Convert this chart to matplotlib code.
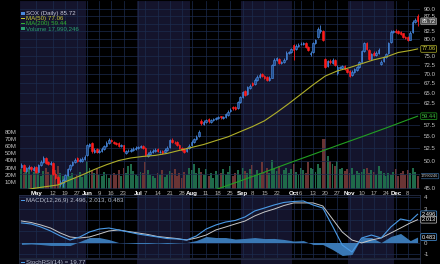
import numpy as np
import pandas as pd
import matplotlib
matplotlib.use('Agg')
import matplotlib.pyplot as plt
from matplotlib import ticker, transforms
from matplotlib.patches import Rectangle

plt.rcParams['font.family'] = ['Liberation Sans', 'DejaVu Sans']

# trading days shown (2014, US holidays removed)
holidays = ['2014-05-26', '2014-07-04', '2014-09-01', '2014-11-27']
days = pd.bdate_range('2014-04-23', '2014-12-12')
days = days[~days.isin(pd.to_datetime(holidays))]

opens = [48.8, 49.3, 48.2, 48.6, 48.9, 48.3, 48.8, 48.0, 49.3, 49.8,
         50.5, 49.8, 49.4, 49.6, 47.5, 47.0, 45.8, 45.9, 46.5, 47.4,
         48.4, 49.2, 49.8, 50.6, 50.0, 50.1, 50.4, 51.2, 53.0, 53.6,
         51.8, 52.3, 51.7, 52.0, 52.4, 52.9, 53.7, 54.3, 53.9, 53.7,
         53.6, 52.9, 53.1, 51.6, 51.9, 51.9, 52.2, 52.3, 52.5, 52.7,
         53.0, 52.6, 51.0, 51.3, 51.8, 51.9, 52.3, 51.7, 51.9, 51.7,
         52.2, 52.8, 54.3, 53.7, 53.8, 53.1, 52.5, 52.3, 51.9, 52.6,
         53.1, 53.9, 54.5, 55.0, 58.4, 57.7, 58.1, 58.8, 58.2, 58.5,
         58.7, 59.1, 59.4, 59.0, 59.3, 59.8, 60.6, 61.6, 61.5, 61.3,
         62.8, 64.0, 65.4, 64.8, 66.4, 67.6, 67.2, 68.3, 69.1, 70.0,
         69.3, 69.2, 68.4, 69.0, 72.5, 73.8, 74.2, 73.0, 73.2, 74.0,
         75.8, 76.2, 78.2, 76.9, 78.0, 78.4, 78.5, 78.9, 77.5, 75.6,
         76.2, 78.7, 80.6, 82.5, 82.6, 74.0, 72.2, 73.6, 73.0, 73.9,
         70.2, 71.5, 71.6, 72.2, 71.2, 70.8, 69.6, 70.5, 71.0, 71.8,
         73.4, 76.4, 78.9, 76.8, 74.1, 76.0, 75.2, 75.8, 72.8, 73.5,
         74.6, 75.8, 79.0, 82.2, 82.7, 82.5, 82.2, 81.8, 80.6, 80.6,
         79.9, 82.2, 85.5, 87.6]
closes = [49.3, 48.2, 48.7, 48.9, 48.4, 48.7, 47.9, 49.3, 49.9, 50.6,
          49.7, 49.5, 49.7, 47.6, 46.9, 46.0, 46.2, 46.4, 47.4, 48.4,
          49.3, 49.8, 50.3, 50.1, 50.2, 50.4, 50.8, 53.1, 53.3, 51.9,
          52.2, 51.8, 52.0, 52.4, 52.9, 53.7, 54.3, 54.0, 53.7, 53.5,
          53.0, 53.2, 51.9, 51.9, 52.0, 52.2, 52.4, 52.6, 52.7, 52.9,
          52.5, 51.1, 51.4, 51.8, 52.0, 52.2, 51.9, 51.8, 51.6, 52.2,
          52.6, 54.2, 53.8, 53.6, 53.2, 52.6, 52.2, 51.8, 52.6, 53.0,
          53.9, 54.4, 54.9, 56.0, 57.8, 58.2, 58.6, 58.3, 58.6, 58.8,
          59.0, 59.2, 59.2, 59.3, 59.9, 60.5, 61.0, 61.3, 61.2, 62.7,
          63.9, 65.2, 64.6, 66.5, 66.8, 67.0, 68.4, 69.2, 69.7, 69.4,
          68.9, 68.3, 68.9, 72.3, 73.9, 74.3, 73.0, 73.2, 73.9, 76.0,
          76.1, 76.9, 76.8, 78.0, 78.3, 78.6, 78.8, 77.6, 76.8, 76.0,
          78.8, 79.8, 83.3, 82.9, 79.8, 72.0, 73.5, 73.2, 73.9, 72.5,
          71.9, 71.8, 72.1, 71.3, 70.6, 69.5, 70.6, 71.2, 71.8, 73.2,
          76.3, 78.8, 77.0, 74.2, 75.6, 75.3, 75.9, 76.8, 73.4, 74.5,
          75.6, 78.8, 82.4, 82.6, 82.3, 82.0, 81.6, 80.8, 80.5, 79.8,
          82.1, 85.6, 86.3, 85.72]
highs = [49.6, 49.5, 48.9, 49.2, 49.1, 49.0, 49.0, 49.5, 50.2, 51.0,
         50.7, 50.1, 50.0, 49.8, 47.8, 47.2, 46.5, 46.7, 47.6, 48.6,
         49.5, 50.0, 50.6, 50.8, 50.5, 50.7, 51.1, 53.4, 53.7, 53.8,
         52.5, 52.5, 52.3, 52.7, 53.2, 54.0, 54.7, 54.5, 54.1, 53.9,
         53.8, 53.5, 53.2, 52.2, 52.3, 52.5, 52.7, 52.9, 53.0, 53.2,
         53.2, 52.7, 51.7, 52.1, 52.3, 52.5, 52.5, 52.1, 52.1, 52.5,
         52.9, 54.5, 54.6, 54.0, 54.0, 53.3, 52.7, 52.5, 52.8, 53.3,
         54.2, 54.7, 55.2, 56.3, 58.8, 58.5, 58.9, 59.1, 58.9, 59.1,
         59.3, 59.5, 59.6, 59.6, 60.2, 60.8, 61.4, 61.9, 61.8, 63.0,
         64.2, 65.6, 65.7, 66.8, 67.2, 67.9, 68.8, 69.6, 70.1, 70.3,
         69.6, 69.4, 69.3, 72.7, 74.3, 74.7, 74.4, 73.6, 74.3, 76.4,
         76.5, 77.3, 78.5, 78.4, 78.7, 79.0, 79.2, 79.1, 77.8, 76.4,
         79.1, 80.2, 83.8, 84.6, 82.9, 74.5, 73.9, 74.0, 74.3, 74.2,
         72.3, 72.2, 72.5, 72.5, 71.5, 71.0, 71.0, 71.6, 72.2, 73.6,
         76.7, 79.2, 79.3, 77.0, 76.0, 76.3, 76.3, 77.2, 73.9, 74.9,
         76.0, 79.2, 82.8, 83.0, 83.1, 82.8, 82.5, 82.0, 80.9, 80.9,
         82.5, 86.0, 86.8, 88.1]
lows = [48.6, 48.0, 48.0, 48.4, 48.2, 48.1, 47.7, 47.9, 49.1, 49.7,
        49.5, 49.3, 49.2, 47.4, 46.7, 45.8, 45.5, 45.3, 46.3, 47.2,
        48.2, 49.0, 49.6, 49.9, 49.8, 49.9, 50.2, 51.0, 52.8, 51.6,
        51.5, 51.6, 51.5, 51.8, 52.2, 52.7, 53.5, 53.8, 53.4, 53.2,
        52.8, 52.7, 51.7, 51.4, 51.7, 51.7, 52.0, 52.1, 52.3, 52.5,
        52.3, 50.9, 50.8, 51.1, 51.6, 51.7, 51.7, 51.5, 51.4, 51.5,
        52.0, 52.6, 53.6, 53.4, 53.0, 52.4, 52.0, 51.5, 51.7, 52.4,
        52.9, 53.7, 54.3, 54.8, 57.5, 57.4, 57.9, 58.0, 58.0, 58.3,
        58.5, 58.8, 58.9, 58.8, 59.1, 59.6, 60.4, 61.0, 60.9, 61.1,
        62.6, 63.8, 64.3, 64.6, 66.1, 66.7, 67.0, 68.1, 68.9, 69.1,
        68.6, 68.0, 68.1, 68.8, 72.3, 73.5, 72.7, 72.7, 73.0, 73.8,
        75.5, 76.0, 73.9, 76.6, 77.7, 78.1, 78.2, 77.3, 76.5, 75.0,
        76.0, 78.4, 80.3, 82.0, 79.4, 71.6, 71.8, 72.8, 72.7, 72.2,
        69.6, 71.2, 71.3, 71.0, 70.3, 69.2, 69.3, 70.2, 70.8, 71.6,
        73.2, 76.2, 76.7, 73.8, 73.9, 75.0, 75.0, 75.6, 72.4, 73.2,
        74.3, 75.6, 78.8, 81.9, 81.9, 81.7, 81.3, 80.4, 80.1, 79.5,
        79.7, 82.0, 85.2, 84.3]
volume_m = [28, 22, 25, 30, 20, 24, 26, 22, 18, 25,
            30, 24, 20, 28, 26, 32, 22, 18, 15, 20,
            18, 22, 16, 20, 24, 17, 21, 39, 30, 25,
            22, 28, 20, 18, 24, 21, 16, 19, 23, 20,
            26, 18, 30, 22, 32, 35, 25, 20, 18, 24,
            22, 38, 26, 20, 18, 15, 22, 19, 26, 17,
            20, 25, 23, 28, 18, 22, 16, 24, 20, 30,
            26, 35, 22, 30, 24, 20, 28, 18, 22, 16,
            25, 19, 23, 28, 20, 24, 32, 18, 22, 26,
            20, 30, 25, 22, 28, 34, 20, 26, 22, 38,
            24, 30, 22, 40, 28, 25, 32, 20, 26, 30,
            22, 28, 35, 24, 20, 30, 26, 22, 38, 30,
            28, 24, 35, 30, 70, 70, 46, 39, 35, 32,
            39, 28, 30, 25, 28, 22, 30, 20, 25, 22,
            24, 28, 30, 22, 26, 24, 20, 32, 25, 22,
            18, 22, 20, 24, 28, 18, 22, 25, 20, 26,
            22, 30, 24, 18]

ma_idx = [0, 5, 10, 15, 20, 25, 30, 35, 40, 45, 50, 55, 60, 65, 70, 75, 80,
          85, 90, 95, 100, 105, 110, 115, 120, 125, 130, 135, 140, 145, 150,
          155, 160, 163]
ma50 = [44.6, 45.0, 45.3, 45.6, 46.5, 47.4, 48.4, 49.3, 50.1, 50.6, 50.9,
        51.1, 51.5, 52.1, 52.7, 53.3, 54.1, 54.9, 56.0, 57.1, 58.4, 60.3,
        62.4, 64.7, 67.1, 69.4, 70.8, 71.7, 72.8, 73.9, 74.7, 76.0, 76.6,
        77.06]
ma200_idx = [70, 80, 90, 100, 110, 120, 130, 140, 150, 160, 163]
ma200 = [43.3, 44.8, 46.3, 47.9, 49.6, 51.3, 53.1, 54.9, 56.8, 58.84, 59.44]

macd_idx = [0, 4, 8, 12, 16, 20, 24, 28, 32, 36, 40, 44, 48, 52, 56, 60, 64,
            68, 72, 76, 80, 84, 88, 92, 96, 100, 104, 108, 112, 116, 120, 124,
            128, 132, 136, 140, 144, 148, 152, 156, 160, 163]
macd = [1.73, 1.64, 1.37, 1.02, 0.58, 0.22, 0.49, 0.93, 1.19, 1.28, 1.11,
        0.93, 0.75, 0.62, 0.49, 0.35, 0.31, 0.22, 0.58, 1.19, 1.55, 1.81,
        1.95, 2.26, 2.79, 3.05, 3.32, 3.54, 3.63, 3.67, 3.32, 3.05, 1.46,
        -0.22, -0.84, 0.40, 0.66, 0.40, 1.37, 2.08, 1.90, 2.496]
signal = [1.90, 1.77, 1.55, 1.28, 0.84, 0.49, 0.40, 0.49, 0.75, 1.02, 1.11,
          0.97, 0.84, 0.71, 0.53, 0.44, 0.35, 0.22, 0.40, 0.66, 1.11, 1.37,
          1.64, 1.90, 2.35, 2.70, 2.96, 3.27, 3.50, 3.50, 3.50, 3.23, 2.08,
          0.93, 0.22, -0.04, 0.22, 0.40, 0.84, 1.28, 1.73, 2.013]

tick_dates = ['2014-05-01', '2014-05-12', '2014-05-19', '2014-05-27',
              '2014-06-02', '2014-06-09', '2014-06-16', '2014-06-23',
              '2014-07-01', '2014-07-07', '2014-07-14', '2014-07-21',
              '2014-07-28', '2014-08-01', '2014-08-11', '2014-08-18',
              '2014-08-25', '2014-09-02', '2014-09-08', '2014-09-15',
              '2014-09-22', '2014-10-01', '2014-10-06', '2014-10-13',
              '2014-10-20', '2014-10-27', '2014-11-03', '2014-11-10',
              '2014-11-17', '2014-11-24', '2014-12-01', '2014-12-08']
tick_labels = ['May', '12', '19', '27', 'Jun', '9', '16', '23', 'Jul', '7',
               '14', '21', '28', 'Aug', '11', '18', '25', 'Sep', '8', '15',
               '22', 'Oct', '6', '13', '20', '27', 'Nov', '10', '17', '24',
               'Dec', '8']
price_ticks = [45.0, 47.5, 50.0, 52.5, 55.0, 57.5, 60.0, 62.5, 65.0, 67.5,
               70.0, 72.5, 75.0, 77.5, 80.0, 82.5, 85.0, 87.5, 90.0]
# labels that sit under the value boxes are not shown
price_hidden = [47.5, 60.0, 77.5, 85.0]
vol_ticks = [10, 20, 30, 40, 50, 60, 70, 80]
navy_months = [4, 5, 7, 9, 11]

W, H = 440, 264
navy = '#14142c'
gridc = '#1c2c4e'
txtc = '#c4c4c4'

def rect(x0, y0, x1, y1):
    return [x0 / W, 1 - y1 / H, (x1 - x0) / W, (y1 - y0) / H]

def ptxt(xp, yp, s, color, **kw):
    fig.text(xp / W, 1 - yp / H, s, color=color, va='center', fontsize=4.4, **kw)

def icon(xp, yp, w, h, color):
    fig.add_artist(Rectangle((xp / W, 1 - (yp + h / 2) / H), w / W, h / H,
                             transform=fig.transFigure, color=color, lw=0))

o = np.array(opens)
c = np.array(closes)
hi = np.array(highs)
lo = np.array(lows)
x = np.arange(len(days))
up = c >= o
tick_idx = [days.get_loc(pd.Timestamp(d)) for d in tick_dates]

fig = plt.figure(figsize=(4.4, 2.64), dpi=100, facecolor='black')
axv = fig.add_axes(rect(19, 0, 420, 189))
ax = fig.add_axes(rect(19, 0, 420, 189))
axm = fig.add_axes(rect(19, 195, 420, 258))
axs = fig.add_axes(rect(19, 259, 420, 264))
ax.set_zorder(2)
ax.patch.set_visible(False)

# month bands
for a in (axv, axm, axs):
    a.set_facecolor('black')
    for m in sorted(set(days.month)):
        sel = x[days.month == m]
        if m in navy_months:
            a.axvspan(sel[0] - 0.5, sel[-1] + 0.5, color=navy, lw=0, zorder=0)
    a.set_xlim(-1, 164)
    for s in a.spines.values():
        s.set_color('#2a3550')
        s.set_linewidth(0.5)

# volume
vol_col = np.where(up, '#1f6a4a', '#6a3434')
axv.bar(x, np.array(volume_m) * 1e6, width=0.8, color=vol_col, zorder=1)
axv.set_ylim(0, 265e6)
axv.set_yticks([v * 1e6 for v in vol_ticks])
axv.set_yticklabels(['%dM' % v for v in vol_ticks])
axv.tick_params(axis='y', length=0, pad=1.5, labelsize=4.4, labelcolor=txtc)
axv.set_xticks([])

# candles
ax.set_yscale('log')
ax.set_ylim(44.89, 93.07)
ax.set_xlim(-1, 164)
ax.vlines(x, lo, hi, colors=np.where(up, '#4a8ae0', '#ff2020'), lw=0.6, zorder=3)
ax.bar(x, np.abs(c - o), bottom=np.minimum(o, c), width=0.65,
       color=np.where(up, '#23508f', '#ff1a1a'),
       edgecolor=np.where(up, '#4d90e8', '#ff2020'), linewidth=0.4, zorder=4)
ax.plot(ma_idx, ma50, color='#b0b02a', lw=0.8, zorder=5)
ax.plot(ma200_idx, ma200, color='#22a022', lw=0.8, zorder=5)

ax.yaxis.tick_right()
ax.yaxis.set_major_locator(ticker.FixedLocator(price_ticks))
ax.yaxis.set_minor_locator(ticker.NullLocator())
ax.yaxis.set_major_formatter(ticker.FixedFormatter(
    ['' if p in price_hidden else '%.1f' % p for p in price_ticks]))
ax.tick_params(axis='y', length=0, pad=2.5, labelsize=4.4, labelcolor=txtc)
ax.set_xticks(tick_idx)
ax.set_xticklabels(tick_labels)
ax.tick_params(axis='x', length=0, pad=1.2, labelsize=4.4, labelcolor='#b0b0b0')
for lab in ax.get_xticklabels():
    if not lab.get_text().isdigit():
        lab.set_fontweight('bold')
        lab.set_color('white')
ax.grid(True, color=gridc, lw=0.5)
ax.set_axisbelow(True)

# MACD panel
hist = np.array(macd) - np.array(signal)
axm.fill_between(macd_idx, hist, 0, color='#3a78b4', lw=0, zorder=2)
axm.plot(macd_idx, signal, color='#c8c8c8', lw=0.7, zorder=3)
axm.plot(macd_idx, macd, color='#4a9ae6', lw=0.8, zorder=4)
axm.set_ylim(-1.37, 4.2)
axm.yaxis.tick_right()
axm.set_yticks([-1, 0, 1, 2, 3, 4])
axm.set_yticklabels(['-1', '0', '', '', '3', '4'])
axm.tick_params(axis='y', length=0, pad=2.5, labelsize=4.4, labelcolor=txtc)
axm.set_xticks(tick_idx)
axm.set_xticklabels([])
axm.tick_params(axis='x', length=0)
axm.grid(True, color=gridc, lw=0.5)
axm.set_axisbelow(True)
axs.set_xticks([])
axs.set_yticks([])

# value boxes on the right
def vbox(a, val, s, fc, ec, tc, fs=4.1, xa=1.004):
    tr = transforms.blended_transform_factory(a.transAxes, a.transData)
    a.text(xa, val, s, transform=tr, ha='left', va='center', fontsize=fs,
           color=tc, clip_on=False, zorder=10,
           bbox=dict(boxstyle='round,pad=0.15', fc=fc, ec=ec, lw=0.5))

vbox(ax, 85.72, '85.72', '#505050', '#a0a0a0', 'white')
vbox(ax, 77.06, '77.06', 'black', '#b0b02a', '#d0d040')
vbox(ax, 59.44, '59.44', 'black', '#22a022', '#40c040')
vbox(axv, 17990246, '17990246', 'black', '#3a6a9a', '#d0d0d0', fs=2.8, xa=1.002)
vbox(axm, 2.496, '2.496', 'black', '#4a9ae6', 'white')
vbox(axm, 2.013, '2.013', 'black', '#c8c8c8', 'white')
vbox(axm, 0.483, '0.483', 'black', '#4a9ae6', 'white')

# legends
icon(21, 13.3, 3.5, 3.5, '#4a8ae0')
ptxt(26, 13.3, 'SOX (Daily) 85.72', '#c8c8d8')
icon(21, 18.3, 3.5, 1.5, '#c8c832')
ptxt(26, 18.3, 'MA(50) 77.06', '#c8c832')
icon(21, 23.3, 3.5, 1.5, '#30b030')
ptxt(26, 23.3, 'MA(200) 59.44', '#30b030')
icon(21, 28.3, 3.5, 3.5, '#2aa070')
ptxt(26, 28.3, 'Volume 17,990,246', '#2aa070')
icon(21, 200.5, 3.5, 1.5, '#4a9ae6')
ptxt(26, 200.5, 'MACD(12,26,9) 2.496, 2.013, 0.483', '#b8c0d0')
icon(21, 262.5, 3.5, 1.5, '#4a9ae6')
ptxt(26, 262.5, 'StochRSI(14) = 19.77', '#b8c0d0')

fig.savefig('out.png', dpi=100, facecolor='black')
